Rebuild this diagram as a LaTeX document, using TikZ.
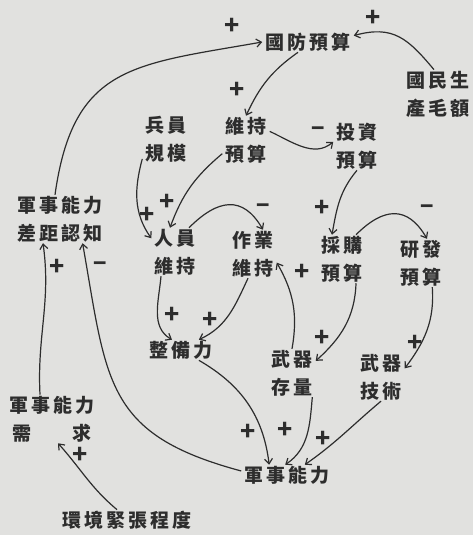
\documentclass[tikz,border=0pt]{standalone}
\usepackage{fontspec}
\newfontfamily\cjk{Noto Sans CJK TC}[LetterSpace=16]
\usetikzlibrary{arrows.meta}
\definecolor{paper}{RGB}{225,225,223}
\definecolor{ink}{RGB}{45,45,45}

\begin{document}
\begin{tikzpicture}[x=1pt, y=1pt, > = {Straight Barb[length=5pt,width=8pt]},
  var/.style = {font=\cjk\bfseries\fontsize{19}{28}\selectfont, text=ink, align=center, inner xsep=3pt, inner ysep=1pt},
  link/.style = {ink, line width=1.2pt, ->},
  sign/.style = {font=\cjk\bfseries\fontsize{25}{25}\selectfont, text=ink, inner sep=0pt},
  neg/.style = {sign, font=\cjk\bfseries\fontsize{22}{22}\selectfont}]

    % page
    \fill[paper] (0,0) rectangle (473,535);
    \useasboundingbox (0,0) rectangle (473,535);

    % variables
    \node[var] (budget)  at (308,493) {國防預算};
    \node[var] (gnp)     at (438,441) {國民生\\產毛額};
    \node[var] (troops)  at (166,396) {兵員\\規模};
    \node[var] (maint)   at (246,395) {維持\\預算};
    \node[var] (invest)  at (357,389) {投資\\預算};
    \node[var] (gap)     at (60,316)  {軍事能力\\差距認知};
    \node[var] (pers)    at (175,283) {人員\\維持};
    \node[var] (oper)    at (253,281) {作業\\維持};
    \node[var] (proc)    at (342,276) {採購\\預算};
    \node[var] (rnd)     at (421,272) {研發\\預算};
    \node[var] (ready)   at (181,185) {整備力};
    \node[var] (stock)   at (292,162) {武器\\存量};
    \node[var] (tech)    at (381,158) {武器\\技術};
    \node[var] (need)    at (52,116)  {軍事能力\\需\phantom{事能}求};
    \node[var] (mil)     at (287,60)  {軍事能力};
    \node[var] (tension) at (127,15)  {環境緊張程度};

    % links
    \draw[link] ([xshift=-5pt]gap.north) to[out=82, in=190, looseness=1.3] (budget.west);
    \draw[link] ([xshift=-4pt]gnp.north) to[out=130, in=15, looseness=1.2] (budget.8);
    \draw[link] ([xshift=-10pt]budget.south) to[out=215, in=65] (maint.north);
    \draw[link] (maint.20) to[out=-25, in=220] (invest.170);
    \draw[link] (invest.south) to[out=230, in=80] ([xshift=-10pt]proc.north);
    \draw[link] (proc.60) to[out=45, in=120, looseness=1.4] ([xshift=6pt]rnd.north);
    \draw[link] (troops.220) to[out=255, in=125] (pers.150);
    \draw[link] (maint.210) to[out=220, in=70] ([xshift=-5pt]pers.north);
    \draw[link] (pers.60) to[out=45, in=120, looseness=1.4] ([xshift=10pt]oper.north);
    \draw[link] (stock.north) to[out=80, in=-60] (oper.-20);
    \draw[link] (pers.-120) to[out=265, in=150] ([xshift=-9pt]ready.north);
    \draw[link] ([xshift=-5pt]oper.south) to[out=245, in=25] (ready.30);
    \draw[link] (proc.-60) to[out=268, in=42] (stock.27);
    \draw[link] (rnd.-65) to[out=-86, in=53] (tech.20);
    \draw[link] (ready.-30) to[out=-30, in=97] (mil.150);
    \draw[link] (stock.-50) to[out=-95, in=34] (mil.100);
    \draw[link] (tech.south) to[out=220, in=35] (mil.30);
    \draw[link] (mil.175) to[out=165, in=-80, looseness=1.3] (gap.-47);
    \draw[link] ([xshift=-12pt]need.north) to[out=93, in=-82] ([xshift=-17pt]gap.south);
    \draw[link] ([xshift=-10pt]tension.north) to[out=140, in=-48] ([xshift=6pt]need.south);

    % polarities
    \node[sign] (s1)  at (232,509) {+};
    \node[sign] (s2)  at (373,517) {+};
    \node[sign] (s3)  at (237,445) {+};
    \node[neg]  (s4)  at (318,403) {−};
    \node[sign] (s5)  at (322,327) {+};
    \node[neg]  (s6)  at (427,325) {−};
    \node[sign] (s7)  at (147,320) {+};
    \node[sign] (s8)  at (167,333) {+};
    \node[neg]  (s9)  at (263,326) {−};
    \node[sign] (s10) at (302,263) {+};
    \node[sign] (s11) at (172,220) {+};
    \node[sign] (s12) at (210,215) {+};
    \node[sign] (s13) at (322,197) {+};
    \node[sign] (s14) at (415,192) {+};
    \node[sign] (s15) at (248,103) {+};
    \node[sign] (s16) at (285,105) {+};
    \node[sign] (s17) at (323,96)  {+};
    \node[neg]  (s18) at (100,268) {−};
    \node[sign] (s19) at (57,268)  {+};
    \node[sign] (s20) at (80,80)   {+};

\end{tikzpicture}
\end{document}
